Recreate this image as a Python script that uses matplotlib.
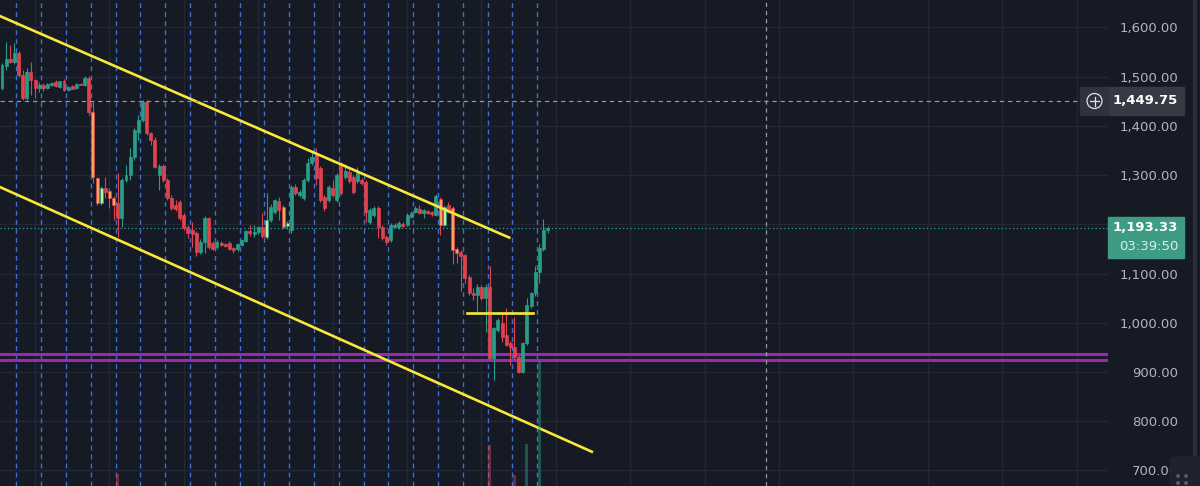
import numpy as np
import matplotlib
matplotlib.use('Agg')
import matplotlib.pyplot as plt
from matplotlib.patches import Rectangle, Ellipse, FancyBboxPatch
from matplotlib.ticker import FuncFormatter

# 4h candles (price units)
opens = [1477, 1521, 1536, 1530, 1548, 1503, 1456, 1509, 1493, 1477,
         1483, 1477, 1482, 1488, 1478, 1490, 1473, 1480, 1477, 1485,
         1483, 1497, 1428, 1294, 1243, 1274, 1268, 1253, 1243, 1213,
         1290, 1300, 1337, 1387, 1412, 1449, 1385, 1371, 1300, 1318,
         1290, 1253, 1239, 1245, 1219, 1194, 1188, 1182, 1144, 1164,
         1213, 1162, 1154, 1162, 1160, 1162, 1152, 1150, 1158, 1166,
         1186, 1180, 1184, 1194, 1174, 1209, 1225, 1248, 1235, 1197,
         1188, 1276, 1260, 1254, 1290, 1325, 1345, 1314, 1255, 1249,
         1274, 1249, 1324, 1296, 1306, 1296, 1288, 1290, 1286, 1205,
         1219, 1233, 1195, 1174, 1168, 1195, 1194, 1201, 1199, 1215,
         1225, 1231, 1223, 1227, 1225, 1219, 1251, 1199, 1239, 1233,
         1150, 1144, 1138, 1093, 1060, 1056, 1073, 1050, 1073, 928,
         985, 1000, 975, 959, 951, 930, 900, 959, 1034, 1060,
         1103, 1150, 1188]
highs = [1528, 1570, 1564, 1568, 1552, 1513, 1517, 1530, 1495, 1489,
         1487, 1486, 1488, 1494, 1492, 1495, 1481, 1482, 1487, 1486,
         1501, 1501, 1448, 1296, 1278, 1296, 1274, 1257, 1304, 1294,
         1320, 1355, 1396, 1422, 1452, 1453, 1388, 1377, 1322, 1322,
         1294, 1260, 1249, 1249, 1223, 1199, 1205, 1186, 1170, 1217,
         1215, 1166, 1168, 1166, 1163, 1166, 1154, 1162, 1170, 1188,
         1199, 1198, 1196, 1223, 1264, 1242, 1252, 1255, 1240, 1206,
         1280, 1282, 1270, 1294, 1335, 1351, 1355, 1318, 1259, 1280,
         1290, 1304, 1327, 1322, 1312, 1300, 1316, 1294, 1290, 1233,
         1237, 1237, 1199, 1178, 1203, 1203, 1207, 1205, 1223, 1227,
         1237, 1239, 1231, 1230, 1228, 1262, 1255, 1240, 1245, 1237,
         1154, 1148, 1140, 1097, 1071, 1079, 1077, 1079, 1115, 992,
         1010, 1018, 1030, 963, 1012, 934, 961, 1050, 1062, 1115,
         1160, 1211, 1196]
lows = [1473, 1513, 1527, 1526, 1499, 1452, 1452, 1463, 1456, 1469,
        1471, 1474, 1480, 1479, 1476, 1471, 1471, 1474, 1475, 1482,
        1481, 1422, 1284, 1239, 1239, 1253, 1233, 1209, 1174, 1194,
        1286, 1290, 1331, 1371, 1408, 1381, 1361, 1314, 1270, 1286,
        1250, 1229, 1227, 1209, 1188, 1172, 1154, 1136, 1140, 1142,
        1150, 1148, 1150, 1156, 1153, 1148, 1142, 1146, 1156, 1164,
        1176, 1174, 1180, 1172, 1170, 1205, 1221, 1209, 1190, 1190,
        1182, 1260, 1256, 1250, 1286, 1320, 1280, 1245, 1226, 1245,
        1256, 1245, 1260, 1292, 1284, 1262, 1284, 1280, 1205, 1200,
        1215, 1172, 1168, 1158, 1164, 1192, 1190, 1194, 1196, 1212,
        1222, 1220, 1213, 1220, 1217, 1216, 1178, 1196, 1222, 1119,
        1121, 1065, 1081, 1056, 1046, 1022, 1046, 981, 924, 884,
        981, 961, 953, 914, 926, 898, 898, 955, 1030, 1054,
        1081, 1146, 1182]
closes = [1524, 1536, 1530, 1548, 1503, 1456, 1509, 1493, 1477, 1483,
          1477, 1484, 1486, 1481, 1490, 1473, 1479, 1475, 1485, 1483,
          1497, 1428, 1296, 1243, 1274, 1266, 1253, 1239, 1213, 1290,
          1300, 1337, 1392, 1412, 1449, 1385, 1371, 1316, 1318, 1290,
          1253, 1233, 1231, 1213, 1192, 1182, 1180, 1144, 1164, 1213,
          1154, 1150, 1164, 1158, 1156, 1150, 1148, 1160, 1168, 1186,
          1182, 1184, 1194, 1176, 1209, 1235, 1249, 1230, 1195, 1203,
          1276, 1264, 1266, 1290, 1325, 1337, 1294, 1249, 1233, 1276,
          1260, 1300, 1264, 1308, 1288, 1266, 1306, 1284, 1225, 1229,
          1233, 1195, 1172, 1164, 1199, 1199, 1203, 1197, 1219, 1223,
          1233, 1223, 1229, 1223, 1221, 1257, 1199, 1235, 1225, 1148,
          1142, 1136, 1091, 1060, 1056, 1073, 1050, 1073, 928, 990,
          1006, 971, 955, 951, 930, 900, 959, 1036, 1060, 1103,
          1152, 1188, 1193.33]

orange_bars = [22, 23, 26, 27, 68, 106, 109, 110]
lime_bars = [24, 64, 69, 107]

vol_bars = [28, 118, 124, 127, 130]
vol_size = [54.9, 66.9, 54.5, 67.3, 101.4]

upper_x, upper_y = [-3, 123], [1632, 1172]
lower_x, lower_y = [-3, 143], [1285, 737]
range_x, range_y = [112.5, 128.5], 1019
support = [936, 924]
last_price = 1193.33
cross_price = 1449.75
cross_index = 184.9
grid_x = [8, 26, 44, 62, 80, 98, 116, 134, 152, 170, 188, 206, 224, 242, 260]

BG = '#161a25'
UP = '#2a9d86'
DOWN = '#e0434f'

fig = plt.figure(figsize=(12, 4.86), dpi=100, facecolor=BG)
ax = fig.add_axes([0, 0, 1108 / 1200, 1])
ax.set_facecolor(BG)
axv = ax.twinx()

n = len(opens)
idx = np.arange(n)
o = np.array(opens, float)
c = np.array(closes, float)
up = c >= o
body_col = np.where(up, UP, DOWN).astype(object)
edge_col = body_col.copy()
for i in orange_bars:
    body_col[i] = '#f5a65c'
for i in lime_bars:
    body_col[i] = '#b8f0a2'

ax.vlines(idx, lows, highs, colors=list(edge_col), lw=0.8, zorder=4)
bottom = np.minimum(o, c)
height = np.maximum(np.abs(c - o), 2.0)
ax.bar(idx, height, bottom=bottom, width=0.72, color=list(body_col),
       edgecolor=list(edge_col), linewidth=0.5, zorder=5)

# volume spikes that reach into view
vcol = [UP if closes[i] >= opens[i] else DOWN for i in vol_bars]
axv.bar(vol_bars, vol_size, width=0.72, color=vcol, alpha=0.45, zorder=1)
axv.set_ylim(50, 250)
axv.axis('off')

# session separators
for d in np.arange(3.5, 131, 6):
    ax.axvline(d, color='#3b6fd6', lw=1, ls=(0, (3.5, 3)), zorder=2)

ax.plot(upper_x, upper_y, color='#f9e83b', lw=1.9, zorder=6, solid_capstyle='butt')
ax.plot(lower_x, lower_y, color='#f9e83b', lw=1.9, zorder=6, solid_capstyle='butt')
ax.plot(range_x, [range_y, range_y], color='#f9e83b', lw=1.9, zorder=6)
for s in support:
    ax.axhline(s, color='#9c27b0', lw=2.2, zorder=3)

ax.axhline(last_price, color='#26a69a', lw=0.9, ls=(0, (1, 2)), zorder=3)
ax.axhline(cross_price, color='#9598a1', lw=0.9, ls=(0, (3.5, 3)), zorder=7)
ax.axvline(cross_index, color='#9598a1', lw=0.9, ls=(0, (3.5, 3)), zorder=7)

ax.set_xlim(-0.484, 267.6)
ax.set_ylim(668.5, 1655.5)
ax.set_xticks(grid_x)
ax.set_yticks(np.arange(700, 1700, 100))
ax.grid(True, color='#232733', lw=1, zorder=0)
ax.set_axisbelow(True)
for sp in ax.spines.values():
    sp.set_visible(False)
ax.yaxis.tick_right()


# the 1,200 label sits under the last-price tag, so it is not shown
def price_fmt(v, pos):
    if abs(v - last_price) < 25:
        return ''
    return f'{v:,.2f}'


ax.yaxis.set_major_formatter(FuncFormatter(price_fmt))
ax.tick_params(axis='x', length=0, labelbottom=False)
ax.tick_params(axis='y', length=0, pad=50.4, labelsize=9.5, labelcolor='#b2b5be')
for t in ax.get_yticklabels():
    t.set_horizontalalignment('right')


def fx(x):
    return x / 1200


def fy(y):
    return 1 - y / 486


# crosshair price label
fig.add_artist(Rectangle((fx(1080), fy(115)), fx(28), 28 / 486, color='#2f333e'))
fig.add_artist(Rectangle((fx(1109), fy(115)), fx(75), 28 / 486, color='#363a45'))
fig.add_artist(Ellipse((fx(1094.5), fy(101)), 15 / 1200, 15 / 486,
                       fill=False, ec='#e0e3eb', lw=0.9))
fig.lines.append(plt.Line2D([fx(1090), fx(1099)], [fy(101), fy(101)], color='#e0e3eb',
                            lw=0.9, transform=fig.transFigure))
fig.lines.append(plt.Line2D([fx(1094.5), fx(1094.5)], [fy(96.5), fy(105.5)], color='#e0e3eb',
                            lw=0.9, transform=fig.transFigure))
fig.text(fx(1178), fy(101), f'{cross_price:,.2f}', color='white', fontsize=9.5,
         fontweight='bold', ha='right', va='center')

# last price label
fig.add_artist(Rectangle((fx(1108), fy(257.7)), fx(76), 40.7 / 486, color='#3e9c84'))
fig.text(fx(1178), fy(227.5), f'{last_price:,.2f}', color='white', fontsize=9.5,
         fontweight='bold', ha='right', va='center')
fig.text(fx(1178), fy(246), '03:39:50', color='#d6eee7', fontsize=9.5,
         ha='right', va='center')

# right edge strip and corner handle
fig.add_artist(Rectangle((fx(1193), 0), fx(3), 1, color='#2a2e39'))
fig.add_artist(FancyBboxPatch((fx(1170), fy(486)), fx(40), 29 / 486,
                              boxstyle='round,pad=0,rounding_size=0.008', color='#1e222d'))
for dx in (1178, 1186):
    for dy in (476, 483):
        fig.add_artist(Ellipse((fx(dx), fy(dy)), 2.4 / 1200, 2.4 / 486, color='#5d606b'))

fig.savefig('out.png', dpi=100, facecolor=BG)
